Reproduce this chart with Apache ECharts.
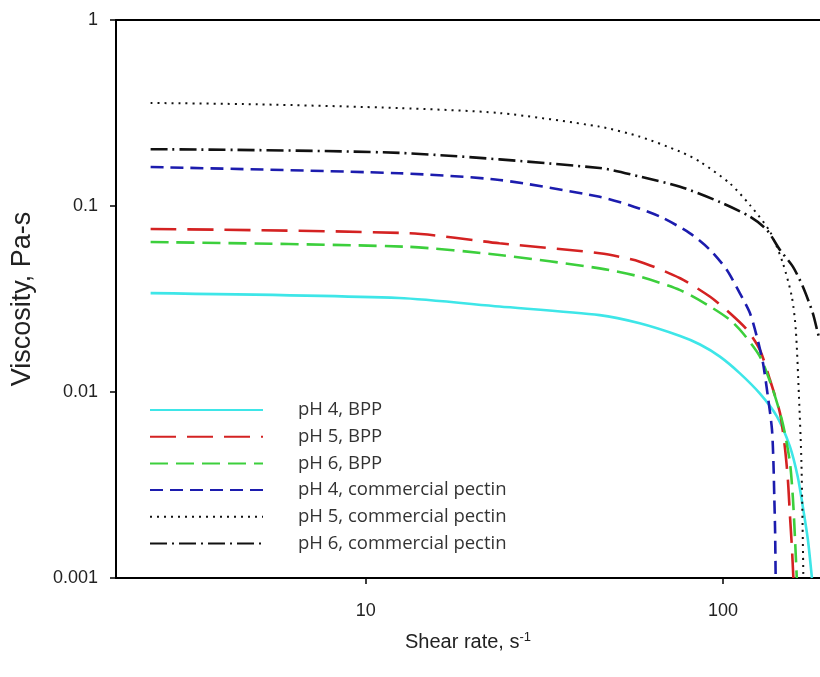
<!DOCTYPE html>
<html>
<head>
<meta charset="utf-8">
<script src="https://cdn.jsdelivr.net/npm/echarts@6/dist/echarts.min.js"></script>
<style>
  html, body { margin: 0; padding: 0; background: #fff; }
  #chart { width: 820px; height: 677px; }
</style>
</head>
<body>
<div id="chart"></div>
<script>
// values (shear rate in 1/s, viscosity in Pa-s)
const seriesNames = ['pH 4, BPP', 'pH 5, BPP', 'pH 6, BPP',
  'pH 4, commercial pectin', 'pH 5, commercial pectin', 'pH 6, commercial pectin'];

const rateBPP4 = [2.5, 12.4, 23.7, 45.2, 58.5, 75.9, 86.3, 98.1, 111.6, 127, 141.6, 154, 162, 167.5, 173, 177.5];
const viscBPP4 = [0.034, 0.032, 0.0288, 0.0259, 0.0234, 0.0200, 0.0180, 0.0155, 0.0126, 0.0098, 0.0074, 0.0051, 0.0035, 0.0024, 0.0016, 0.001];

const rateBPP5 = [2.5, 13.3, 23.7, 45.2, 58.5, 75.9, 92.1, 104.7, 116.8, 127, 135.5, 144.5, 149, 152, 154, 156, 157.5];
const viscBPP5 = [0.0752, 0.0713, 0.063, 0.0557, 0.0502, 0.0409, 0.0325, 0.0265, 0.0216, 0.0168, 0.0116, 0.0077, 0.0051, 0.0034, 0.0022, 0.00147, 0.001];

const rateBPP6 = [2.5, 13.0, 23.7, 45.2, 58.5, 75.9, 92.1, 104.7, 113.8, 127, 138, 147, 154, 157, 159, 161];
const viscBPP6 = [0.064, 0.0604, 0.0545, 0.0462, 0.0417, 0.0353, 0.0288, 0.0244, 0.0207, 0.0155, 0.0103, 0.0068, 0.0042, 0.0027, 0.0017, 0.001];

const rateCom4 = [2.5, 12.4, 23.7, 45.2, 54.8, 66.7, 80.9, 92.1, 102.6, 111.6, 119.1, 124.5, 129.5, 133.7, 137.2, 138.5, 139.3, 140, 140.5];
const viscCom4 = [0.162, 0.150, 0.138, 0.112, 0.101, 0.0877, 0.0713, 0.058, 0.0453, 0.0339, 0.0265, 0.0198, 0.0143, 0.0094, 0.0063, 0.0042, 0.0027, 0.0018, 0.001];

const rateCom5 = [2.5, 5, 12.4, 23.7, 45.2, 58.5, 75.9, 86.3, 104.7, 119.1, 135.5, 147.2, 156, 160, 163.3, 165.9, 168];
const viscCom5 = [0.358, 0.352, 0.336, 0.316, 0.267, 0.236, 0.196, 0.173, 0.132, 0.101, 0.0728, 0.0493, 0.0324, 0.0216, 0.0094, 0.0042, 0.001];

const rateCom6 = [2.5, 12.4, 45.2, 58.5, 75.9, 98.1, 119.1, 132.8, 144.5, 157, 167.5, 178.6, 184.5, 187];
const viscCom6 = [0.202, 0.193, 0.160, 0.144, 0.127, 0.105, 0.0877, 0.0743, 0.058, 0.0472, 0.0368, 0.0265, 0.0207, 0.019];

const xTicks = [10, 100];
const xTickLabels = ['10', '100'];
const yTicks = [0.001, 0.01, 0.1, 1];
const yTickLabels = ['0.001', '0.01', '0.1', '1'];

const rates = [rateBPP4, rateBPP5, rateBPP6, rateCom4, rateCom5, rateCom6];
const viscs = [viscBPP4, viscBPP5, viscBPP6, viscCom4, viscCom5, viscCom6];

const lineStyles = [
  { color: '#3ee6e8', width: 2.6, type: 'solid' },
  { color: '#d42222', width: 2.6, type: [26, 11] },
  { color: '#3ccf3c', width: 2.6, type: [18, 8] },
  { color: '#1c1cae', width: 2.6, type: [13, 7] },
  { color: '#111111', width: 2, type: [2, 5] },
  { color: '#111111', width: 2.6, type: [17, 5, 2, 5] }
];

function pair(xs, ys) {
  return xs.map((x, i) => [x, ys[i]]);
}

function pickLabel(ticks, labels) {
  return v => labels[ticks.findIndex(t => Math.abs(t - v) / t < 1e-6)] || '';
}

const chart = echarts.init(document.getElementById('chart'));
const labelFont = { fontFamily: 'Liberation Sans', fontSize: 18, color: '#222' };
const xMin = 2, xMax = 187;

chart.setOption({
  animation: false,
  grid: {
    left: 116, top: 20, width: 704, height: 558,
    outerBoundsMode: 'none'
  },
  legend: {
    orient: 'vertical',
    left: 144,
    top: 395,
    itemWidth: 113,
    itemHeight: 20,
    itemGap: 6.7,
    data: seriesNames,
    itemStyle: { opacity: 0 },
    textStyle: {
      fontFamily: 'Open Sans', fontSize: 18.5, lineHeight: 20, color: '#333',
      padding: [0, 0, 0, 30]
    }
  },
  xAxis: [{
    type: 'log',
    logBase: 10,
    min: xMin,
    max: xMax,
    name: 'Shear rate, s{sup|-1}',
    nameLocation: 'middle',
    nameGap: 53,
    nameTextStyle: {
      fontFamily: 'Liberation Sans', fontSize: 20, color: '#222',
      rich: { sup: { fontFamily: 'Liberation Sans', fontSize: 13, color: '#222', padding: [0, 0, 10, 0] } }
    },
    axisLine: { show: true, lineStyle: { color: '#000', width: 2 } },
    axisTick: { show: true, inside: false, length: 6, lineStyle: { color: '#000', width: 1.5 }, customValues: xTicks },
    axisLabel: Object.assign({ margin: 24, customValues: xTicks, formatter: pickLabel(xTicks, xTickLabels) }, labelFont),
    splitLine: { show: false }
  }, {
    // top frame line
    type: 'log',
    logBase: 10,
    min: xMin,
    max: xMax,
    position: 'top',
    axisLine: { show: true, lineStyle: { color: '#000', width: 2 } },
    axisTick: { show: false },
    axisLabel: { show: false },
    splitLine: { show: false }
  }],
  yAxis: {
    type: 'log',
    logBase: 10,
    min: 0.001,
    max: 1,
    name: 'Viscosity, Pa-s',
    nameLocation: 'middle',
    nameRotate: 90,
    nameGap: 80,
    nameTextStyle: { fontFamily: 'Liberation Sans', fontSize: 27, color: '#222' },
    axisLine: { show: true, lineStyle: { color: '#000', width: 2 } },
    axisTick: { show: true, inside: false, length: 6, lineStyle: { color: '#000', width: 1.5 }, customValues: yTicks },
    axisLabel: Object.assign({ margin: 18, customValues: yTicks, formatter: pickLabel(yTicks, yTickLabels) }, labelFont),
    splitLine: { show: false }
  },
  series: seriesNames.map((name, i) => ({
    name: name,
    type: 'line',
    data: pair(rates[i], viscs[i]),
    smooth: 0.25,
    showSymbol: false,
    symbol: 'none',
    lineStyle: lineStyles[i],
    itemStyle: { color: lineStyles[i].color }
  }))
});
</script>
</body>
</html>
